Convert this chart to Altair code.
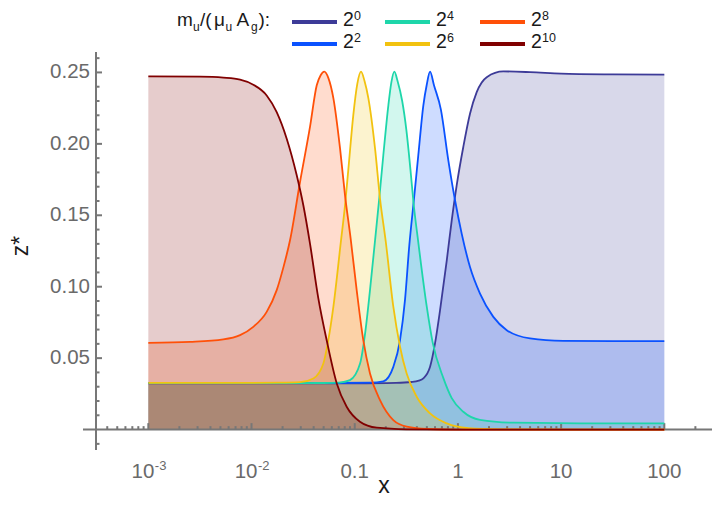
import altair as alt
import pandas as pd

# ---------------- data (log10 x, z*) ----------------
series = ["2^0", "2^2", "2^4", "2^6", "2^8", "2^10"]
colors = ["#3D3B98", "#0A52FF", "#1ED6AA", "#F2C20F", "#FF5008", "#800000"]
sup_labels = ["0", "2", "4", "6", "8", "10"]

lx_0 = [-3, -2, -1, -0.6, -0.45, -0.38, -0.335, -0.27, -0.222, -0.173, -0.108, -0.06, -0.012,
        0.052, 0.117, 0.182, 0.279, 0.44, 0.7, 1.0, 1.5, 2.0]
z_0 = [0.0323, 0.0323, 0.0324, 0.0327, 0.0333, 0.0342, 0.0358, 0.0439, 0.0603, 0.0836, 0.1185,
       0.1465, 0.171, 0.1978, 0.2211, 0.2362, 0.2467, 0.2507, 0.2502, 0.2492, 0.2486, 0.2484]

lx_2 = [-3, -2, -1.2, -0.85, -0.723, -0.626, -0.561, -0.513, -0.471, -0.425, -0.384, -0.335,
        -0.303, -0.27, -0.232, -0.165, -0.093, -0.028, 0.037, 0.117, 0.214, 0.343, 0.473, 0.699,
        1.022, 1.5, 2.0]
z_2 = [0.0325, 0.0325, 0.0326, 0.0328, 0.0338, 0.0439, 0.0626, 0.0906, 0.129, 0.162, 0.192, 0.227,
       0.241, 0.2505, 0.241, 0.224, 0.1885, 0.1605, 0.137, 0.1138, 0.0952, 0.0789, 0.0696, 0.0638,
       0.0621, 0.0619, 0.0619]

lx_4 = [-3, -2, -1.3, -1.15, -1.046, -0.949, -0.9, -0.852, -0.803, -0.762, -0.723, -0.674, -0.645,
        -0.616, -0.585, -0.54, -0.50, -0.46, -0.432, -0.384, -0.302, -0.245, -0.141, -0.06, 0.052,
        0.214, 0.537, 1.183, 2.0]
z_4 = [0.0325, 0.0325, 0.0326, 0.0329, 0.0346, 0.046, 0.067, 0.0976, 0.1325, 0.162, 0.192, 0.227,
       0.243, 0.2505, 0.244, 0.230, 0.210, 0.182, 0.160, 0.131, 0.086, 0.061, 0.036, 0.022, 0.0125,
       0.0068, 0.0048, 0.0044, 0.0043]

lx_6 = [-3, -2, -1.72, -1.53, -1.401, -1.304, -1.256, -1.207, -1.135, -1.094, -1.062, -1.014,
        -0.975, -0.939, -0.905, -0.868, -0.803, -0.755, -0.70, -0.626, -0.561, -0.496, -0.4, -0.27,
        -0.108, 0.1, 0.4, 1.0, 2.0]
z_6 = [0.0327, 0.0327, 0.0328, 0.0332, 0.0358, 0.0463, 0.0626, 0.0859, 0.131, 0.157, 0.182, 0.22,
       0.242, 0.2505, 0.244, 0.232, 0.1966, 0.1617, 0.132, 0.086, 0.058, 0.039, 0.023, 0.0113,
       0.0043, 0.001, 0.0002, 0.0, 0.0]

lx_8 = [-3, -2.596, -2.273, -2.111, -1.983, -1.853, -1.756, -1.69, -1.627, -1.53, -1.433, -1.368,
        -1.33, -1.295, -1.255, -1.207, -1.142, -1.094, -1.04, -0.981, -0.917, -0.852, -0.755,
        -0.626, -0.496, -0.3, 0.0, 2.0]
z_8 = [0.0607, 0.0614, 0.0631, 0.0661, 0.0719, 0.0824, 0.0976, 0.1139, 0.1325, 0.1733, 0.212,
       0.241, 0.248, 0.2505, 0.246, 0.232, 0.1966, 0.164, 0.134, 0.0976, 0.0626, 0.0393, 0.0206,
       0.0066, 0.002, 0.0004, 0.0, 0.0]

lx_10 = [-3, -2.5, -2.273, -2.111, -1.983, -1.853, -1.756, -1.659, -1.562, -1.498, -1.433, -1.353,
         -1.27, -1.174, -1.078, -0.949, -0.787, -0.5, 0.0, 2.0]
z_10 = [0.2472, 0.2470, 0.2463, 0.2449, 0.2414, 0.2339, 0.2222, 0.2036, 0.178, 0.157, 0.130,
        0.092, 0.062, 0.0323, 0.016, 0.0055, 0.0013, 0.0002, 0.0, 0.0]

y_major = [0.05, 0.10, 0.15, 0.20, 0.25]
y_minor = [-0.01, 0.01, 0.02, 0.03, 0.04, 0.06, 0.07, 0.08, 0.09, 0.11, 0.12, 0.13, 0.14,
           0.16, 0.17, 0.18, 0.19, 0.21, 0.22, 0.23, 0.24, 0.26]
x_major = [1e-3, 1e-2, 1e-1, 1, 10, 100]
x_minor = [4e-4, 5e-4, 6e-4, 7e-4, 8e-4, 9e-4,
           2e-3, 3e-3, 4e-3, 5e-3, 6e-3, 7e-3, 8e-3, 9e-3,
           2e-2, 3e-2, 4e-2, 5e-2, 6e-2, 7e-2, 8e-2, 9e-2,
           0.2, 0.3, 0.4, 0.5, 0.6, 0.7, 0.8, 0.9,
           2, 3, 4, 5, 6, 7, 8, 9,
           20, 30, 40, 50, 60, 70, 80, 90, 200]
x_pow_vals = [1e-3, 1e-2]
x_pow_sups = ["-3", "-2"]
x_plain_vals = [0.1, 1, 10, 100]
x_plain_text = ["0.1", "1", "10", "100"]

# ---------------- tables ----------------
curves = [lx_0, lx_2, lx_4, lx_6, lx_8, lx_10]
values = [z_0, z_2, z_4, z_6, z_8, z_10]
rows = []
for name, lxs, zs in zip(series, curves, values):
    for a, b in zip(lxs, zs):
        rows.append({"s": name, "x": 10 ** a, "y": b})
df = pd.DataFrame(rows)

ymaj = pd.DataFrame({"v": y_major, "t": [f"{v:.2f}" for v in y_major]})
ymin = pd.DataFrame({"v": y_minor})
xmaj = pd.DataFrame({"v": x_major})
xmin = pd.DataFrame({"v": x_minor})
xpow = pd.DataFrame({"v": x_pow_vals, "sup": x_pow_sups})
xplain = pd.DataFrame({"v": x_plain_vals, "t": x_plain_text})
one = pd.DataFrame({"a": [0]})

# ---------------- layout ----------------
FONT = "Liberation Sans"
AX = "#777777"
LAB = "#6a6a6a"
TXT = "#1a1a1a"
W, H = 616, 398
X0, Y0 = 96, 52  # page position of the plot origin
YDOM = [-0.0143, 0.2643]
xs = alt.Scale(type="log", domain=[10 ** -3.507, 10 ** 2.462], nice=False)
ysc = alt.Scale(domain=YDOM, nice=False, zero=False)
col = alt.Color("s:N", scale=alt.Scale(domain=series, range=colors), legend=None)

area = alt.Chart(df).transform_calculate(base="0").mark_area(
    opacity=0.2, interpolate="monotone").encode(
    x=alt.X("x:Q", scale=xs, axis=None),
    y=alt.Y("y:Q", scale=ysc, stack=None, axis=None),
    y2="base:Q",
    color=col,
)
lines = alt.Chart(df).mark_line(strokeWidth=1.8, interpolate="monotone").encode(
    x=alt.X("x:Q", scale=xs, axis=None),
    y=alt.Y("y:Q", scale=ysc, axis=None),
    color=col,
)

# axes drawn as marks (Mathematica style: ticks pointing inwards)
xline = alt.Chart(one).transform_calculate(y0="0").mark_rule(color=AX, strokeWidth=2).encode(
    x=alt.value(-13), x2=alt.value(W), y=alt.Y("y0:Q", scale=ysc, axis=None))
yline = alt.Chart(one).mark_rule(color=AX, strokeWidth=2).encode(
    x=alt.value(0), y=alt.value(0), y2=alt.value(H))

ytick_major = alt.Chart(ymaj).mark_rule(color=AX, strokeWidth=2).encode(
    y=alt.Y("v:Q", scale=ysc, axis=None), x=alt.value(0), x2=alt.value(6))
ytick_minor = alt.Chart(ymin).mark_rule(color=AX, strokeWidth=2).encode(
    y=alt.Y("v:Q", scale=ysc, axis=None), x=alt.value(0), x2=alt.value(3.5))
xtick_major = alt.Chart(xmaj).transform_calculate(y0="0", y1="0.0045").mark_rule(
    color=AX, strokeWidth=2).encode(
    x=alt.X("v:Q", scale=xs, axis=None), y=alt.Y("y0:Q", scale=ysc, axis=None), y2="y1:Q")
xtick_minor = alt.Chart(xmin).transform_calculate(y0="0", y1="0.0024").mark_rule(
    color=AX, strokeWidth=2).encode(
    x=alt.X("v:Q", scale=xs, axis=None), y=alt.Y("y0:Q", scale=ysc, axis=None), y2="y1:Q")

LFS = 20.5
ylab = alt.Chart(ymaj).mark_text(font=FONT, fontSize=LFS, color=LAB, align="right",
                                 baseline="middle", dx=-6).encode(
    y=alt.Y("v:Q", scale=ysc, axis=None), x=alt.value(0), text="t:N")

LBASE = 478 - Y0
xlab_plain = alt.Chart(xplain).mark_text(font=FONT, fontSize=LFS, color=LAB, align="center",
                                         baseline="alphabetic").encode(
    x=alt.X("v:Q", scale=xs, axis=None), y=alt.value(LBASE), text="t:N")
xlab_pow_main = alt.Chart(xpow).mark_text(font=FONT, fontSize=LFS, color=LAB, align="right",
                                          baseline="alphabetic", dx=6, text="10").encode(
    x=alt.X("v:Q", scale=xs, axis=None), y=alt.value(LBASE))
xlab_pow_sup = alt.Chart(xpow).mark_text(font=FONT, fontSize=13, color=LAB, align="left",
                                         baseline="alphabetic", dx=6.5, dy=-8).encode(
    x=alt.X("v:Q", scale=xs, axis=None), y=alt.value(LBASE), text="sup:N")


def txt(s, px, py, size=19, color=TXT, align="left", baseline="alphabetic", angle=0):
    return alt.Chart(one).mark_text(text=s, font=FONT, fontSize=size, color=color,
                                    align=align, baseline=baseline, angle=angle).encode(
        x=alt.value(px - X0), y=alt.value(py - Y0))


xtitle = txt("x", 384, 493, size=23, align="center")
ytitle = txt("z*", 21, 246, size=23, align="center", baseline="middle", angle=270)

# legend (title with subscripts, 3 columns x 2 rows, column-major order)
TB = 26  # baseline of the legend title row
legend_layers = [
    txt("m", 177, TB), txt("u", 193, TB + 5, size=12),
    txt("/(", 200, TB), txt("μ", 214, TB), txt("u", 225.5, TB + 5, size=12),
    txt("A", 236.5, TB), txt("g", 251, TB + 5, size=12), txt("):", 258.5, TB),
]
col_x = [292, 385, 480]
row_y = [22, 44]
for i, (name, c, sup) in enumerate(zip(series, colors, sup_labels)):
    cx = col_x[i // 2]
    ry = row_y[i % 2]
    legend_layers.append(alt.Chart(one).mark_rule(color=c, strokeWidth=4).encode(
        x=alt.value(cx - X0), x2=alt.value(cx + 45 - X0), y=alt.value(ry - Y0)))
    legend_layers.append(txt("2", cx + 51, ry + 4, size=19.5))
    legend_layers.append(txt(sup, cx + 62, ry - 2, size=12.5))

chart = alt.layer(
    area, xline, yline, ytick_major, ytick_minor, xtick_major, xtick_minor, lines,
    ylab, xlab_plain, xlab_pow_main, xlab_pow_sup, xtitle, ytitle, *legend_layers
).properties(
    width=W, height=H,
    padding={"left": 88, "top": 44, "right": 0, "bottom": 48},
    autosize=alt.AutoSizeParams(type="none"),
).configure_view(stroke=None)

chart.save("out.html", embed_options={"renderer": "svg", "actions": False})
